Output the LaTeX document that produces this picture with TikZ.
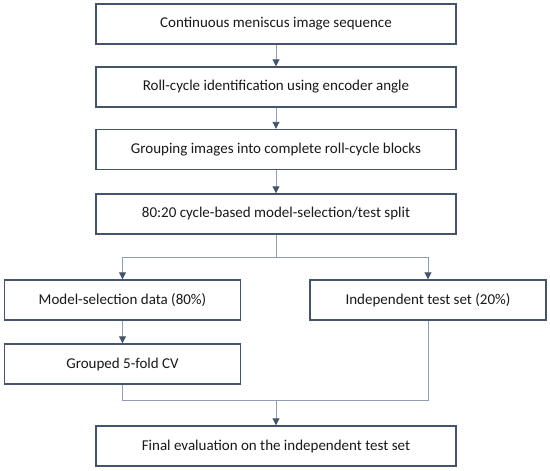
\documentclass[tikz,border=0pt]{standalone}
\usepackage{fontspec}
\setmainfont{Carlito}
\usetikzlibrary{arrows.meta}
\definecolor{boxc}{HTML}{44546A}
\definecolor{linec}{HTML}{8E9DB5}
\tikzset{
  stepbox/.style={draw=boxc, line width=1.4pt, fill=white, rectangle, inner sep=0pt,
    minimum height=40pt, font=\fontsize{15}{18}\selectfont, text=black!90},
  mainbox/.style={stepbox, minimum width=360pt},
  sidebox/.style={stepbox, minimum width=236pt},
  conn/.style={draw=linec, line width=0.9pt},
  arr/.style={conn, -{Triangle[length=7pt, width=7pt, color=boxc, fill=boxc]}}
}
\begin{document}
\begin{tikzpicture}[x=1pt, y=-1pt]
\useasboundingbox[fill=white] (0,0) rectangle (550,471);
\node[mainbox] (b1) at (276,24) {Continuous meniscus image sequence};
\node[mainbox] (b2) at (276,87) {Roll-cycle identification using encoder angle};
\node[mainbox] (b3) at (276,149.5) {Grouping images into complete roll-cycle blocks};
\node[mainbox] (b4) at (276,214) {80:20 cycle-based model-selection/test split};
\node[sidebox] (b5) at (122.5,300) {Model-selection data (80\%)};
\node[sidebox] (b6) at (428,300) {Independent test set (20\%)};
\node[sidebox] (b7) at (122.5,364) {Grouped 5-fold CV};
\node[mainbox] (b8) at (276,446) {Final evaluation on the independent test set};
\coordinate (split) at (276,257);
\coordinate (merge) at (276,400);
\draw[arr] (b1) -- (b2);
\draw[arr] (b2) -- (b3);
\draw[arr] (b3) -- (b4);
\draw[conn] (b4.south) -- (split);
\draw[arr] (split) -| (b5.north);
\draw[arr] (split) -| (b6.north);
\draw[arr] (b5) -- (b7);
\draw[conn] (b7.south) |- (merge);
\draw[conn] (b6.south) |- (merge);
\draw[arr] (merge) -- (b8.north);
\end{tikzpicture}
\end{document}
